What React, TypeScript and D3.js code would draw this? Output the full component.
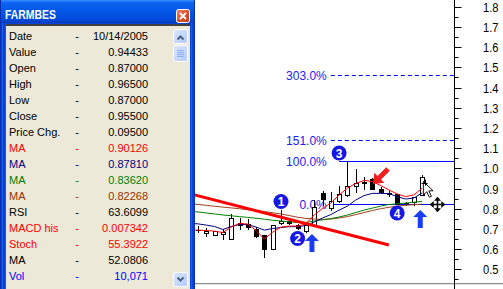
import React from 'react';
import * as d3 from 'd3';

// ---------- data ----------
const dates = [
  '2005-09-06', '2005-09-07', '2005-09-08', '2005-09-09', '2005-09-12', '2005-09-13', '2005-09-14',
  '2005-09-15', '2005-09-16', '2005-09-19', '2005-09-20', '2005-09-21', '2005-09-22', '2005-09-23',
  '2005-09-26', '2005-09-27', '2005-09-28', '2005-09-29', '2005-09-30', '2005-10-03', '2005-10-04',
  '2005-10-05', '2005-10-06', '2005-10-07', '2005-10-10', '2005-10-11', '2005-10-12', '2005-10-13',
  '2005-10-14',
];
const openVals = [0.70, 0.695, 0.68, 0.67, 0.675, 0.65, 0.73, 0.725, 0.70, 0.67, 0.60, 0.728, 0.74, 0.72, 0.69, 0.72, 0.88, 0.805, 0.84, 0.87, 0.912, 0.93, 0.945, 0.90, 0.877, 0.875, 0.83, 0.835, 0.87];
const highVals = [0.71, 0.715, 0.705, 0.69, 0.70, 0.775, 0.755, 0.75, 0.71, 0.67, 0.72, 0.795, 0.745, 0.725, 0.73, 0.845, 0.89, 0.885, 0.915, 1.035, 0.995, 0.955, 0.95, 0.91, 0.888, 0.875, 0.835, 0.86, 0.965];
const lowVals = [0.69, 0.685, 0.665, 0.67, 0.65, 0.65, 0.70, 0.70, 0.66, 0.56, 0.60, 0.725, 0.725, 0.70, 0.685, 0.72, 0.82, 0.795, 0.835, 0.865, 0.885, 0.90, 0.90, 0.878, 0.863, 0.825, 0.82, 0.82, 0.87];
const closeVals = [0.70, 0.695, 0.69, 0.69, 0.685, 0.755, 0.72, 0.71, 0.665, 0.60, 0.72, 0.74, 0.73, 0.705, 0.72, 0.81, 0.85, 0.84, 0.875, 0.915, 0.925, 0.925, 0.90, 0.885, 0.875, 0.825, 0.83, 0.86, 0.955];

const maRed = [0.695, 0.694, 0.692, 0.689, 0.682, 0.709, 0.727, 0.724, 0.692, 0.650, 0.684, 0.709, 0.714, 0.714, 0.724, 0.769, 0.801, 0.828, 0.868, 0.902, 0.925, 0.940, 0.935, 0.915, 0.893, 0.873, 0.860, 0.868, 0.90126];
const maNavy = [0.728, 0.725, 0.719, 0.712, 0.697, 0.712, 0.722, 0.722, 0.709, 0.694, 0.702, 0.707, 0.711, 0.711, 0.717, 0.734, 0.754, 0.771, 0.793, 0.813, 0.843, 0.865, 0.876, 0.876, 0.875, 0.860, 0.848, 0.853, 0.8781];
const maGreen = [0.787, 0.784, 0.779, 0.774, 0.769, 0.765, 0.761, 0.757, 0.753, 0.748, 0.743, 0.739, 0.735, 0.732, 0.732, 0.739, 0.745, 0.751, 0.759, 0.769, 0.781, 0.793, 0.803, 0.813, 0.821, 0.824, 0.828, 0.832, 0.8362];
const maBrown = [0.825, 0.821, 0.817, 0.812, 0.808, 0.804, 0.800, 0.795, 0.791, 0.786, 0.780, 0.774, 0.766, 0.758, 0.752, 0.749, 0.747, 0.749, 0.754, 0.761, 0.771, 0.781, 0.791, 0.800, 0.807, 0.813, 0.817, 0.820, 0.82268];

const yTickValues = [0.5, 0.6, 0.7, 0.8, 0.9, 1.0, 1.1, 1.2, 1.3, 1.4, 1.5, 1.6, 1.7, 1.8];
const yTickLabels = ['0.5', '0.6', '0.7', '0.8', '0.9', '1.0', '1.1', '1.2', '1.3', '1.4', '1.5', '1.6', '1.7', '1.8'];

const fibLow = 0.825;
const fibHigh = 1.035;
const fibRatios = [0, 1, 1.51, 3.03];
const fibLabels = ['0.0%', '100.0%', '151.0%', '303.0%'];
const fibStartIdx = [17, 18, 17, 17];
const fibDashed = [false, false, true, true];

const trendIdx = [0, 24];
const trendVals = [0.875, 0.62];

const markerLabels = ['1', '2', '3', '4'];
const markerIdx = [11, 13, 18, 25];
const markerVals = [0.8356, 0.6523, 1.0758, 0.7786];

const upArrowIdx = [14.73, 27.78];
const upArrowTip = [0.6746, 0.7935];
const upArrowTail = [0.5854, 0.7043];
const redArrowIdx = [22.08, 23.89];
const redArrowVals = [0.9222, 0.9965];

const cursorIdx = 28.15;
const cursorVal = 0.935;
const plusIdx = 28.3;
const plusVal = 0.9295;
const moveIdx = 29.8;
const moveVal = 0.823;

const rowLabels = ['Date', 'Value', 'Open', 'High', 'Low', 'Close', 'Price Chg.', 'MA', 'MA', 'MA', 'MA', 'RSI', 'MACD his', 'Stoch', 'MA', 'Vol'];
const rowValues = ['10/14/2005', '0.94433', '0.87000', '0.96500', '0.87000', '0.95500', '0.09500', '0.90126', '0.87810', '0.83620', '0.82268', '63.6099', '0.007342', '55.3922', '52.0806', '10,071'];
const rowColors = ['#000', '#000', '#000', '#000', '#000', '#000', '#000', '#ff0000', '#000080', '#008000', '#993300', '#000', '#ff0000', '#ff0000', '#000', '#0000ff'];

// ---------- component ----------
export default function App() {
  const W = 503, H = 289;
  const x = d3.scaleLinear().domain([0, dates.length - 1]).range([189.7, 422.1]);
  const y = d3.scaleLinear().domain([0.5, 1.8]).range([269.3, 6.8]);
  const axisX = 454.5;
  const font = '"Liberation Sans", Arial, sans-serif';

  const lineGen = (vals: number[]) =>
    d3.line<number>().x((_, i) => x(i)).y((v) => y(v))(vals) || '';

  const minorTicks = d3.range(9, 38).map((k) => k * 0.05);

  const candles = dates.map((d, i) => {
    const o = openVals[i], c = closeVals[i], h = highVals[i], l = lowVals[i];
    const rc = Math.round(x(i));
    const yT = Math.round(y(Math.max(o, c)));
    const yB = Math.round(y(Math.min(o, c)));
    const filled = c < o;
    return (
      <g key={d}>
        <line x1={rc + 0.5} x2={rc + 0.5} y1={Math.round(y(h))} y2={Math.round(y(l)) + 1} stroke="#000" strokeWidth={1} />
        {yB - yT < 1 ? (
          <line x1={rc - 2} x2={rc + 3} y1={yT + 0.5} y2={yT + 0.5} stroke="#000" strokeWidth={1} />
        ) : (
          <rect x={rc - 1.5} y={yT + 0.5} width={4} height={yB - yT} fill={filled ? '#000' : '#fff'} stroke="#000" strokeWidth={1} />
        )}
      </g>
    );
  });

  const fibVal = (r: number) => fibLow + r * (fibHigh - fibLow);

  const upArrow = (cx: number, tipY: number, tailY: number) => {
    const hw = 7, hh = 7, sw = 2.5;
    return `M${cx},${tipY} L${cx + hw},${tipY + hh} L${cx + sw},${tipY + hh} L${cx + sw},${tailY} L${cx - sw},${tailY} L${cx - sw},${tipY + hh} L${cx - hw},${tipY + hh} Z`;
  };

  const rTipX = x(redArrowIdx[0]), rTipY = y(redArrowVals[0]);
  const rTailX = x(redArrowIdx[1]), rTailY = y(redArrowVals[1]);
  const rLen = Math.hypot(rTailX - rTipX, rTailY - rTipY);
  const rAng = (Math.atan2(rTipY - rTailY, rTipX - rTailX) * 180) / Math.PI;

  const cx0 = x(cursorIdx), cy0 = y(cursorVal);
  const mx = x(moveIdx), my = y(moveVal);
  const px = x(plusIdx), py = y(plusVal);

  return (
    <svg width={W} height={H} style={{ position: 'absolute', left: 0, top: 0, background: '#fff' }}>
      <defs>
        <linearGradient id="title" x1="0" y1="0" x2="0" y2="1">
          <stop offset="0" stopColor="#3d8cff" />
          <stop offset="0.12" stopColor="#0a62f0" />
          <stop offset="0.5" stopColor="#0456e6" />
          <stop offset="0.85" stopColor="#034ad8" />
          <stop offset="1" stopColor="#0a3cc0" />
        </linearGradient>
        <linearGradient id="btn" x1="0" y1="0" x2="1" y2="1">
          <stop offset="0" stopColor="#dce7fd" />
          <stop offset="1" stopColor="#b3c9f7" />
        </linearGradient>
        <linearGradient id="close" x1="0" y1="0" x2="1" y2="1">
          <stop offset="0" stopColor="#e98a6e" />
          <stop offset="0.5" stopColor="#d9532c" />
          <stop offset="1" stopColor="#c03a14" />
        </linearGradient>
        <clipPath id="plot">
          <rect x={195} y={0} width={axisX - 195} height={283} />
        </clipPath>
      </defs>

      {/* plot area */}
      <g clipPath="url(#plot)">
        {fibRatios.map((r, k) => {
          const yy = Math.round(y(fibVal(r))) + 0.5;
          return (
            <g key={fibLabels[k]}>
              <line x1={x(fibStartIdx[k])} x2={axisX} y1={yy} y2={yy} stroke="#0000ff" strokeWidth={1}
                strokeDasharray={fibDashed[k] ? '4,3' : undefined} />
              <text x={x(17) - 4} y={yy + 4} textAnchor="end" fontFamily={font} fontSize={12} fill="#2222ee">{fibLabels[k]}</text>
            </g>
          );
        })}
        {candles}
        <path d={lineGen(maBrown)} fill="none" stroke="#a0401a" strokeWidth={1} />
        <path d={lineGen(maGreen)} fill="none" stroke="#008000" strokeWidth={1} />
        <path d={lineGen(maNavy)} fill="none" stroke="#000080" strokeWidth={1} />
        <path d={lineGen(maRed)} fill="none" stroke="#ff0000" strokeWidth={1} />
        <line x1={x(trendIdx[0])} y1={y(trendVals[0])} x2={x(trendIdx[1])} y2={y(trendVals[1])} stroke="#ff0000" strokeWidth={3} />
        {markerLabels.map((m, k) => (
          <g key={m}>
            <circle cx={x(markerIdx[k])} cy={y(markerVals[k])} r={7.5} fill="#1616e6" />
            <text x={x(markerIdx[k])} y={y(markerVals[k]) + 4.5} textAnchor="middle" fontFamily={font} fontWeight="bold" fontSize={12} fill="#fff">{m}</text>
          </g>
        ))}
        {upArrowIdx.map((ai, k) => (
          <path key={k} d={upArrow(x(ai), y(upArrowTip[k]), y(upArrowTail[k]))} fill="#1a3cf5" />
        ))}
        <g transform={`translate(${rTipX},${rTipY}) rotate(${rAng})`}>
          <path d={`M0,0 L-9,-7 L-9,-2.5 L${-rLen},-2.5 L${-rLen},2.5 L-9,2.5 L-9,7 Z`} fill="#f01e1e" />
        </g>
        <g transform={`translate(${cx0},${cy0}) scale(0.85)`}>
          <path d="M0,0 L0,16 L4,12 L7,18.5 L9.5,17.5 L6.5,11 L11.5,11 Z" fill="#fff" stroke="#000" strokeWidth={1.1} strokeLinejoin="miter" />
        </g>
        <g stroke="#000" strokeWidth={1}>
          <line x1={px - 3} x2={px + 3} y1={Math.round(py) + 0.5} y2={Math.round(py) + 0.5} />
          <line x1={Math.round(px) + 0.5} x2={Math.round(px) + 0.5} y1={py - 3} y2={py + 3} />
        </g>
        <g transform={`translate(${Math.round(mx) + 0.5},${Math.round(my) + 0.5})`} fill="#000" stroke="#000">
          <line x1={-6} x2={6} y1={0} y2={0} strokeWidth={1.5} />
          <line x1={0} x2={0} y1={-6} y2={6} strokeWidth={1.5} />
          <path d="M-7.5,0 L-4,-3 L-4,3 Z M7.5,0 L4,-3 L4,3 Z M0,-7.5 L-3,-4 L3,-4 Z M0,7.5 L-3,4 L3,4 Z" strokeWidth={0.5} />
        </g>
      </g>

      <line x1={195} x2={W} y1={283.5} y2={283.5} stroke="#8c8c8c" strokeWidth={1} />
      <line x1={195} x2={W} y1={284.5} y2={284.5} stroke="#e4e4e4" strokeWidth={1} />

      <line x1={axisX} x2={axisX} y1={0} y2={H} stroke="#000" strokeWidth={1} />
      {minorTicks.map((v, k) => {
        const major = k % 2 === 1;
        const yy = Math.round(y(v)) + 0.5;
        return <line key={k} x1={axisX} x2={axisX + (major ? 7 : 4)} y1={yy} y2={yy} stroke="#000" strokeWidth={1} />;
      })}
      {yTickValues.map((v, k) => (
        <text key={yTickLabels[k]} x={483} y={Math.round(y(v)) + 4.5} fontFamily={font} fontSize={12} fill="#000" textLength={15.5} lengthAdjust="spacingAndGlyphs">{yTickLabels[k]}</text>
      ))}

      <g>
        <rect x={0} y={0} width={195} height={H} fill="#0843d8" />
        <rect x={0} y={0} width={195} height={23} fill="url(#title)" />
        <line x1={0.5} x2={0.5} y1={0} y2={H} stroke="#0a2fb0" />
        <line x1={194.5} x2={194.5} y1={0} y2={H} stroke="#0a2fb0" />
        <line x1={2.5} x2={2.5} y1={23} y2={H} stroke="#1a5cf0" />
        <line x1={191.5} x2={191.5} y1={23} y2={H} stroke="#1a5cf0" />
        <text x={5} y={18.5} fontFamily={font} fontWeight="bold" fontSize={12} fill="#fff" textLength={51} lengthAdjust="spacingAndGlyphs">FARMBES</text>
        <rect x={176.5} y={9.5} width={13} height={13} rx={2} fill="url(#close)" stroke="#fff" strokeWidth={1} />
        <path d="M180,13 L186,19 M186,13 L180,19" stroke="#fff" strokeWidth={1.8} />
        <rect x={5} y={24} width={185} height={H - 24} fill="#ece9d8" />
        <line x1={5} x2={190} y1={25} y2={25} stroke="#404040" strokeWidth={2} />
        <line x1={5.5} x2={5.5} y1={24} y2={H} stroke="#505050" strokeWidth={1} />
        {rowLabels.map((lab, k) => {
          const by = 40 + k * 16;
          return (
            <g key={k} fontFamily={font} fontSize={11} fill={rowColors[k]}>
              <text x={9} y={by}>{lab}</text>
              <text x={77} y={by} textAnchor="middle">-</text>
              <text x={148} y={by} textAnchor="end">{rowValues[k]}</text>
            </g>
          );
        })}
        <rect x={173.5} y={29.5} width={14} height={14} rx={2} fill="url(#btn)" stroke="#fff" strokeWidth={1} />
        <path d="M177.5,39.5 L180.5,36.5 L183.5,39.5" fill="none" stroke="#4d6185" strokeWidth={2} />
        <rect x={173.5} y={45.5} width={14} height={16} rx={2} fill="url(#btn)" stroke="#fff" strokeWidth={1} />
        {[50.5, 52.5, 54.5, 56.5].map((gy) => (
          <line key={gy} x1={177} x2={184} y1={gy} y2={gy} stroke="#8cb0f8" strokeWidth={1} />
        ))}
        <rect x={173.5} y={272.5} width={14} height={14} rx={2} fill="url(#btn)" stroke="#fff" strokeWidth={1} />
        <path d="M177.5,277.5 L180.5,280.5 L183.5,277.5" fill="none" stroke="#4d6185" strokeWidth={2} />
      </g>
    </svg>
  );
}
